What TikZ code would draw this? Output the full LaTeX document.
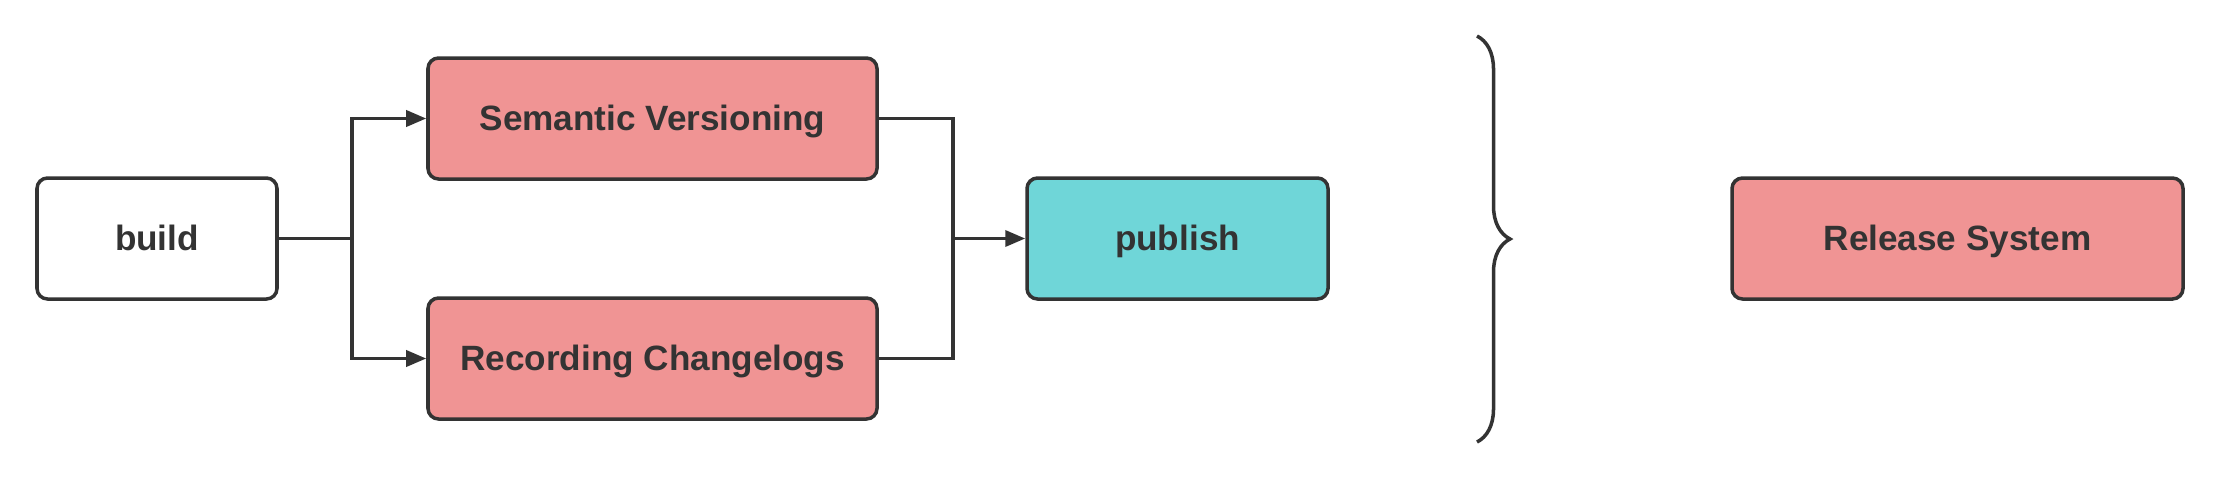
\documentclass[tikz,border=0pt]{standalone}
\usepackage{fontspec}
\setmainfont{Liberation Sans}
\usepackage{xcolor}
\usepackage{tikz}
\usetikzlibrary{arrows.meta,decorations.pathreplacing}
\definecolor{inkx}{HTML}{333333}
\definecolor{pinkx}{HTML}{F09494}
\definecolor{tealx}{HTML}{6FD6D8}
\tikzset{
  ar/.style={-{Triangle[length=2mm,width=1.6mm]},line width=1pt,inkx},
  ln/.style={line width=1pt,inkx},
  box/.style={draw=inkx,line width=1pt,rounded corners=3pt,minimum height=1.21cm,
    font=\fontsize{10}{12}\selectfont\bfseries,text=inkx,inner sep=0pt,
    text height=7pt,text depth=0pt}
}
\begin{document}
\begin{tikzpicture}
\useasboundingbox (0,0) rectangle (22.2,4.78);
\node[box,fill=white,minimum width=2.40cm] (build) at (1.57,2.395) {build};
\node[box,fill=pinkx,minimum width=4.49cm] (sem) at (6.525,3.595) {Semantic Versioning};
\node[box,fill=pinkx,minimum width=4.49cm] (rec) at (6.525,1.195) {Recording Changelogs};
\node[box,fill=tealx,minimum width=3.01cm] (pub) at (11.775,2.395) {publish};
\node[box,fill=pinkx,minimum width=4.51cm] (rel) at (19.575,2.395) {Release System};
\coordinate (split) at (3.52,2.395);
\coordinate (merge) at (9.53,2.395);
% fork and join
\draw[ln] (build) -- (split);
\draw[ar] (split) |- (sem);
\draw[ar] (split) |- (rec);
\draw[ln] (sem.east) -| (merge);
\draw[ln] (rec.east) -| (merge);
\draw[ar] (merge) -- (pub);
% brace
\coordinate (braceT) at (14.77,4.42);
\coordinate (braceB) at (14.77,0.36);
\draw[ln,decorate,decoration={brace,amplitude=3.3mm}] (braceT) -- (braceB);
\end{tikzpicture}
\end{document}
